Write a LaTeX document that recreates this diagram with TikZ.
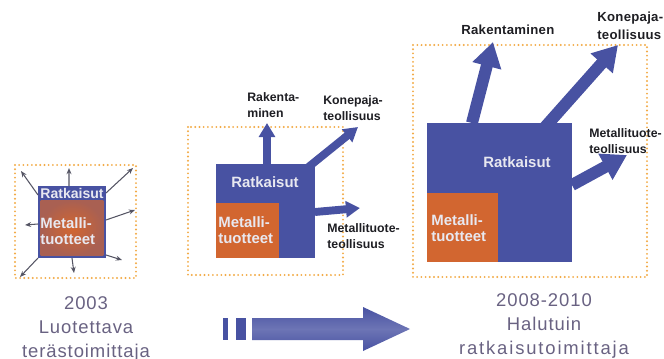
\documentclass[tikz,border=0pt]{standalone}
\usepackage{fontspec}
\setmainfont{Liberation Sans}
\newfontfamily\yearfont[LetterSpace=5]{Liberation Sans}
\newfontfamily\widefont[LetterSpace=10]{Liberation Sans}
\newfontfamily\labelfont[LetterSpace=2]{Liberation Sans}
\usetikzlibrary{positioning}
\usetikzlibrary{arrows.meta}

\definecolor{solblue}{RGB}{72,82,162}
\definecolor{metorange}{RGB}{210,102,48}
\definecolor{dotorange}{RGB}{242,170,70}
\definecolor{softwhite}{RGB}{232,232,240}
\definecolor{arrowgray}{RGB}{85,85,100}
\definecolor{capgray}{RGB}{105,98,130}
\definecolor{labelblack}{RGB}{30,30,35}

\begin{document}
\begin{tikzpicture}
	[x=0.02cm,y=-0.02cm,
	frame/.style={draw=dotorange, line width=1.2pt, line cap=round, dash pattern=on 0pt off 2.4pt},
	solbox/.style={fill=solblue, inner sep=0pt, outer sep=0pt, anchor=north west},
	metbox/.style={fill=metorange, inner sep=0pt, outer sep=0pt, anchor=south west},
	intext/.style={text=softwhite, font=\bfseries\fontsize{8.5}{9}\selectfont, inner sep=0pt, align=left},
	lbl/.style={text=labelblack, font=\bfseries\fontsize{7}{9}\selectfont, inner sep=0pt, align=left, anchor=west},
	biglbl/.style={lbl, font=\labelfont\bfseries\fontsize{7.5}{10}\selectfont},
	thinarrow/.style={draw=arrowgray, line width=0.6pt, -{Stealth[length=3.5pt,width=2.8pt]}},
	fatarrow/.style={draw=solblue, line width=4.5pt, -{Triangle[width=9pt,length=8pt]}},
	bigarrow/.style={draw=solblue, line width=6.8pt, -{Triangle[width=16pt,length=14pt]}},
	caption/.style={text=capgray, font=\yearfont\fontsize{10.5}{13.5}\selectfont, align=center, inner sep=0pt}]

\useasboundingbox (0,0) rectangle (664,359);

% dotted frames
\draw [frame] (15,165) rectangle (136,278);
\draw [frame] (188,127) rectangle (343,275);
\draw [frame] (413,45) rectangle (647,277);

% 2003
\node [solbox, minimum width=1.36cm, minimum height=1.44cm] (sol1) at (38,186) {};
\node [shade, inner color=metorange, outer color=solblue!30!metorange, inner sep=0pt,
	minimum width=1.26cm, minimum height=1.1cm] (met1) at (72,228) {};
\node [intext, font=\bfseries\fontsize{8}{9}\selectfont] (rat1) at (72,193) {Ratkaisut};
\node [intext, anchor=west] (mt1) at (40,231) {Metalli-\\tuotteet};

\coordinate (e1) at (21,171);
\coordinate (e2) at (69,168);
\coordinate (e3) at (133,168);
\coordinate (e4) at (135,210);
\coordinate (e5) at (122,260);
\coordinate (e6) at (74,273);
\coordinate (e7) at (20,277);
\coordinate (e8) at (25,225);
\draw [thinarrow] ([yshift=-0.18cm]sol1.north west) -- (e1);
\draw [thinarrow] ([xshift=-0.06cm]sol1.north) -- (e2);
\draw [thinarrow] ([yshift=-0.14cm]sol1.north east) -- (e3);
\draw [thinarrow] ([yshift=-0.68cm]sol1.north east) -- (e4);
\draw [thinarrow] ([yshift=0.06cm]sol1.south east) -- (e5);
\draw [thinarrow] (sol1.south) -- (e6);
\draw [thinarrow] (sol1.south west) -- (e7);
\draw [thinarrow] ([yshift=0.68cm]sol1.south west) -- (e8);

% middle stage
\coordinate (rak2) at (267,123);
\coordinate (kon2) at (358,127);
\coordinate (mtt2) at (360,208);
\node [solbox, minimum width=1.98cm, minimum height=1.88cm] (sol2) at (216,164) {};
\draw [fatarrow] ([xshift=1.02cm]sol2.north west) -- (rak2);
\draw [fatarrow] ([xshift=1.8cm,yshift=-0.1cm]sol2.north west) -- (kon2);
\draw [fatarrow] ([yshift=-0.96cm]sol2.north east) -- (mtt2);
\node [metbox, minimum width=1.26cm, minimum height=1.1cm] (met2) at (sol2.south west) {};
\node [intext] (rat2) at (265,182) {Ratkaisut};
\node [intext, anchor=west] (mt2) at (218,230) {Metalli-\\tuotteet};
\node [lbl] (lrak2) at (247,105) {Rakenta-\\minen};
\node [lbl] (lkon2) at (323,108) {Konepaja-\\teollisuus};
\node [lbl] (lmtt2) at (327,236) {Metallituote-\\teollisuus};

% 2008-2010
\coordinate (rak3) at (493,42);
\coordinate (kon3) at (618,45);
\coordinate (mtt3) at (627,155);
\node [solbox, minimum width=2.9cm, minimum height=2.78cm] (sol3) at (427,123) {};
\draw [bigarrow] ([xshift=0.9cm]sol3.north west) -- (rak3);
\draw [bigarrow] ([xshift=2.3cm,yshift=-0.15cm]sol3.north west) -- (kon3);
\draw [bigarrow] ([yshift=-1.24cm]sol3.north east) -- (mtt3);
\node [metbox, minimum width=1.42cm, minimum height=1.38cm] (met3) at (sol3.south west) {};
\node [intext] (rat3) at (517,162) {Ratkaisut};
\node [intext, anchor=west] (mt3) at (431,228) {Metalli-\\tuotteet};
\node [biglbl] (lrak3) at (461,30) {Rakentaminen};
\node [biglbl] (lkon3) at (597,26) {Konepaja-\\teollisuus};
\node [lbl] (lmtt3) at (589,141) {Metallituote-\\teollisuus};

% time arrow
\fill [solblue] (223,318) rectangle (228,340);
\fill [solblue] (236,318) rectangle (246,340);
\shade [top color=solblue, bottom color=solblue, middle color=solblue!80!white]
	(252,318) -- (363,318) -- (363,307) -- (410,329) -- (363,351) -- (363,340) -- (252,340) -- cycle;

\node [caption] (yr1) at (86,329) {2003\\Luotettava\\terästoimittaja};
\node [caption] (yr2) at (544,326) {2008-2010\\Halutuin\\{\widefont ratkaisutoimittaja}};

\end{tikzpicture}
\end{document}
